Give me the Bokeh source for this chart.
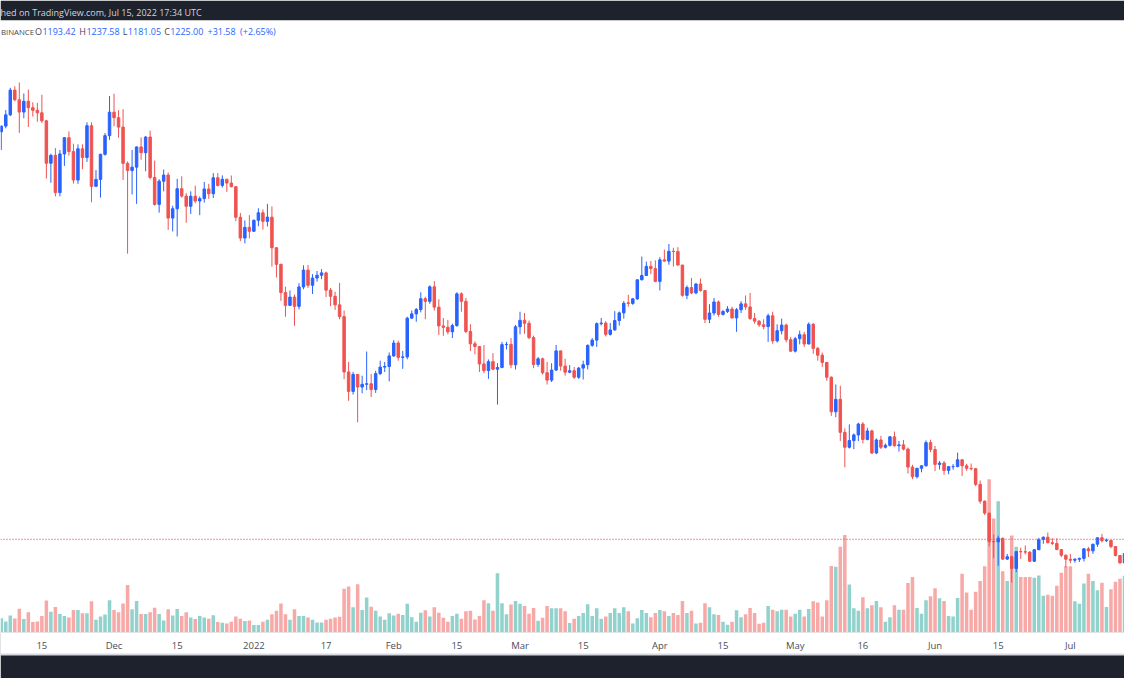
import pandas as pd
from bokeh.plotting import figure
from bokeh.models import ColumnDataSource, Range1d, FixedTicker, LinearAxis, Span, Label
from bokeh.embed import file_html
from bokeh.resources import INLINE

# ---------------- data (BINANCE ETH daily) ----------------
start_date = "2021-11-06"

opens = [
    # Nov 6-30
    4475, 4520, 4610, 4807, 4730, 4632, 4718, 4667, 4646, 4626, 4562, 4224, 4287, 3990, 4298, 4428, 4317, 4090, 4339, 4270, 4523, 4040, 4095, 4295, 4444,
    # Dec
    4631, 4587, 4512, 4223, 4166, 4193, 4354, 4308, 4433, 4111, 3896, 4081, 4130, 3787, 3861, 4021, 3962, 3881, 3961, 3923, 3942, 4019, 3981, 4108, 4047, 4096, 4066, 4037, 3793, 3628, 3713,
    # Jan
    3682, 3769, 3829, 3761, 3794, 3550, 3418, 3193, 3091, 3157, 3083, 3238, 3372, 3251, 3309, 3331, 3350, 3212, 3163, 3095, 3001, 2560, 2405, 2540, 2440, 2462, 2466, 2420, 2547, 2599, 2604,
    # Feb
    2688, 2791, 2676, 2680, 2989, 3023, 3058, 3144, 3123, 3239, 3077, 2927, 2916, 2880, 2930, 3183, 3123, 2883, 2785, 2763, 2624, 2571, 2642, 2582, 2596, 2778, 2780, 2617,
    # Mar
    2920, 2972, 2948, 2834, 2620, 2665, 2554, 2495, 2575, 2728, 2607, 2558, 2570, 2518, 2591, 2618, 2772, 2814, 2945, 2950, 2860, 2895, 2970, 3031, 3111, 3106, 3143, 3295, 3329, 3402, 3384,
    # Apr
    3282, 3454, 3444, 3522, 3520, 3412, 3171, 3233, 3190, 3261, 3209, 2980, 3030, 3118, 3019, 3042, 3062, 2991, 3056, 3103, 3078, 2986, 2965, 2936, 2922, 3008, 2808, 2889, 2934, 2817,
    # May
    2726, 2825, 2857, 2783, 2940, 2748, 2694, 2636, 2518, 2243, 2342, 2079, 1960, 2013, 2058, 2145, 2022, 2090, 1914, 2018, 1960, 1975, 2043, 1972, 1979, 1945, 1802, 1725, 1792, 1812, 1997,
    # Jun
    1942, 1823, 1834, 1775, 1805, 1806, 1860, 1812, 1792, 1789, 1664, 1530, 1435, 1208, 1206, 1234, 1068, 1087, 994, 1128, 1127, 1124, 1051, 1143, 1225, 1242, 1199, 1193, 1144, 1099,
    # Jul 1-15
    1067, 1059, 1067, 1074, 1150, 1134, 1187, 1238, 1215, 1217, 1168, 1097, 1038, 1113, 1193.42,
]

highs = [
    4525, 4648, 4825, 4838, 4868, 4780, 4812, 4710, 4705, 4770, 4570, 4300, 4345, 4330, 4430, 4478, 4380, 4374, 4375, 4550, 4550, 4170, 4300, 4465, 4760,
    4778, 4647, 4655, 4238, 4330, 4358, 4430, 4440, 4484, 4245, 4097, 4174, 4150, 3885, 4100, 4120, 3987, 4000, 4045, 3960, 4075, 4060, 4145, 4145, 4127, 4100, 4126, 4040, 3828, 3768, 3810,
    3776, 3865, 3856, 3900, 3880, 3555, 3423, 3240, 3210, 3177, 3268, 3410, 3413, 3340, 3365, 3380, 3360, 3230, 3200, 3270, 3050, 2640, 2560, 2540, 2530, 2723, 2545, 2570, 2650, 2640, 2715,
    2815, 2810, 2728, 3000, 3050, 3070, 3195, 3160, 3250, 3284, 3140, 2990, 2975, 2945, 3195, 3195, 3150, 2940, 2805, 2765, 2775, 2660, 2710, 2630, 2800, 2800, 2830, 2935,
    3040, 3030, 2970, 2850, 2680, 2675, 2640, 2630, 2775, 2730, 2665, 2615, 2600, 2600, 2650, 2780, 2830, 2955, 2990, 2965, 2950, 3045, 3042, 3125, 3175, 3150, 3295, 3480, 3440, 3445, 3450,
    3475, 3535, 3580, 3550, 3555, 3415, 3250, 3310, 3270, 3305, 3212, 3100, 3150, 3130, 3055, 3085, 3080, 3070, 3125, 3170, 3190, 3030, 2975, 2980, 3025, 3040, 2940, 2985, 2945, 2840,
    2840, 2890, 2880, 2955, 2950, 2760, 2715, 2640, 2525, 2460, 2450, 2110, 2142, 2070, 2155, 2160, 2115, 2100, 2030, 2050, 1990, 2050, 2085, 2010, 2018, 1958, 1820, 1795, 1815, 2015, 2020,
    1970, 1850, 1850, 1810, 1825, 1917, 1865, 1828, 1830, 1795, 1695, 1535, 1435, 1265, 1255, 1240, 1110, 1095, 1130, 1160, 1177, 1130, 1145, 1237, 1250, 1280, 1235, 1235, 1146, 1105,
    1110, 1075, 1080, 1155, 1165, 1190, 1240, 1270, 1232, 1220, 1170, 1100, 1115, 1215, 1237.58,
]

lows = [
    4330, 4502, 4600, 4718, 4466, 4583, 4513, 4596, 4555, 4544, 4102, 4068, 3960, 3960, 4203, 4285, 4062, 4060, 4176, 4235, 3913, 4035, 3950, 4285, 4410,
    4520, 4427, 4090, 3503, 3975, 3900, 4252, 4160, 4095, 3886, 3830, 4000, 3693, 3680, 3640, 3950, 3750, 3820, 3905, 3810, 3910, 3940, 3947, 4037, 4030, 3996, 4032, 3762, 3603, 3585, 3625,
    3676, 3722, 3695, 3720, 3400, 3313, 3126, 3000, 3085, 2928, 3059, 3220, 3230, 3182, 3280, 3300, 3158, 3085, 3055, 2980, 2503, 2330, 2380, 2159, 2390, 2415, 2360, 2393, 2535, 2560, 2485,
    2680, 2650, 2585, 2661, 2985, 2960, 3035, 2980, 3103, 3050, 2855, 2848, 2860, 2830, 2920, 3040, 2870, 2727, 2700, 2560, 2550, 2505, 2575, 2300, 2590, 2740, 2590, 2580,
    2860, 2865, 2820, 2590, 2600, 2540, 2460, 2480, 2570, 2570, 2530, 2550, 2505, 2505, 2500, 2580, 2760, 2760, 2930, 2843, 2850, 2890, 2930, 2985, 3080, 3095, 3135, 3290, 3330, 3340, 3275,
    3210, 3440, 3415, 3400, 3410, 3160, 3140, 3180, 3180, 3200, 2950, 2950, 3010, 3000, 3010, 3030, 2985, 2880, 3030, 3055, 2975, 2945, 2920, 2900, 2800, 2785, 2795, 2860, 2795, 2720,
    2715, 2780, 2760, 2780, 2705, 2650, 2600, 2490, 2210, 2200, 2010, 1800, 1950, 1945, 2010, 1990, 2015, 1905, 1905, 1945, 1950, 1965, 1965, 1925, 1935, 1750, 1705, 1710, 1760, 1806, 1920,
    1770, 1782, 1740, 1745, 1780, 1800, 1730, 1772, 1775, 1650, 1510, 1420, 1170, 1075, 1015, 1060, 1061, 881, 965, 1070, 1105, 1045, 1045, 1140, 1190, 1195, 1180, 1140, 1085, 1000,
    1035, 1040, 1045, 1050, 1085, 1110, 1165, 1200, 1205, 1155, 1090, 1030, 1006, 1065, 1181.05,
]

closes = [
    4520, 4610, 4807, 4730, 4632, 4718, 4667, 4646, 4626, 4562, 4224, 4287, 3990, 4298, 4428, 4317, 4090, 4339, 4270, 4523, 4040, 4095, 4295, 4444, 4631,
    4587, 4512, 4223, 4166, 4193, 4354, 4308, 4433, 4111, 3896, 4081, 4130, 3787, 3861, 4021, 3962, 3881, 3961, 3923, 3942, 4019, 3981, 4108, 4047, 4096, 4066, 4037, 3793, 3628, 3713, 3682,
    3769, 3829, 3761, 3794, 3550, 3418, 3193, 3091, 3157, 3083, 3238, 3372, 3251, 3309, 3331, 3350, 3212, 3163, 3095, 3001, 2560, 2405, 2540, 2440, 2462, 2466, 2420, 2547, 2599, 2604, 2688,
    2791, 2676, 2680, 2989, 3023, 3058, 3144, 3123, 3239, 3077, 2927, 2916, 2880, 2930, 3183, 3123, 2883, 2785, 2763, 2624, 2571, 2642, 2582, 2596, 2778, 2780, 2617, 2920,
    2972, 2948, 2834, 2620, 2665, 2554, 2495, 2575, 2728, 2607, 2558, 2570, 2518, 2591, 2618, 2772, 2814, 2945, 2950, 2860, 2895, 2970, 3031, 3108, 3106, 3143, 3295, 3329, 3402, 3384, 3282,
    3454, 3444, 3522, 3520, 3412, 3171, 3233, 3190, 3261, 3209, 2980, 3030, 3118, 3019, 3042, 3062, 2991, 3056, 3103, 3078, 2986, 2965, 2936, 2922, 3008, 2808, 2889, 2934, 2817, 2726,
    2825, 2857, 2783, 2940, 2748, 2694, 2636, 2518, 2243, 2342, 2079, 1960, 2013, 2058, 2145, 2022, 2090, 1914, 2018, 1960, 1975, 2043, 1972, 1979, 1945, 1802, 1725, 1792, 1812, 1997, 1942,
    1823, 1834, 1775, 1805, 1806, 1860, 1812, 1792, 1789, 1664, 1530, 1435, 1207, 1206, 1234, 1068, 1087, 994, 1128, 1127, 1124, 1051, 1143, 1225, 1242, 1199, 1193, 1144, 1099, 1067,
    1059, 1067, 1074, 1150, 1134, 1187, 1238, 1215, 1217, 1168, 1097, 1038, 1113, 1193.42, 1225.00,
]

# volume, in thousands (relative bar heights)
volumes = [
    147, 113, 173, 143, 243, 137, 207, 107, 113, 170, 327, 213, 260, 190, 170, 153, 230, 230, 197, 197, 320, 130, 163, 183, 330,
    230, 207, 297, 487, 237, 323, 190, 190, 207, 253, 190, 123, 237, 173, 240, 170, 207, 153, 137, 170, 153, 140, 177, 107, 100, 93, 110, 163, 140, 117, 123,
    77, 77, 110, 130, 187, 223, 297, 187, 130, 237, 170, 170, 153, 130, 103, 103, 130, 140, 153, 160, 447, 470, 257, 493, 230, 357, 263, 223, 163, 130, 197,
    173, 193, 180, 293, 157, 110, 203, 227, 163, 257, 203, 150, 110, 170, 193, 140, 217, 223, 133, 170, 330, 300, 223, 607, 300, 187, 287, 323,
    293, 270, 193, 250, 120, 150, 270, 247, 247, 247, 217, 97, 140, 170, 200, 290, 170, 247, 140, 163, 200, 247, 200, 257, 217, 93, 147, 230, 200, 157, 200,
    230, 217, 170, 200, 180, 323, 200, 223, 93, 100, 300, 257, 187, 180, 110, 80, 110, 227, 157, 187, 250, 200, 90, 100, 270, 233, 217, 233, 233, 163,
    193, 233, 163, 240, 320, 307, 163, 330, 680, 673, 877, 997, 490, 247, 223, 360, 247, 280, 323, 257, 110, 157, 280, 233, 233, 507, 567, 250, 193, 330, 370,
    453, 350, 323, 170, 163, 353, 600, 410, 233, 417, 527, 677, 1567, 1167, 1343, 627, 527, 993, 877, 567, 567, 567, 560, 583, 377, 387, 377, 477, 610, 677,
    677, 320, 293, 500, 600, 527, 433, 510, 260, 443, 520, 550, 580, 480, 300,
]

tick_dates = ["2021-11-15", "2021-12-01", "2021-12-15", "2022-01-01", "2022-01-17", "2022-02-01",
              "2022-02-15", "2022-03-01", "2022-03-15", "2022-04-01", "2022-04-15", "2022-05-01",
              "2022-05-16", "2022-06-01", "2022-06-15", "2022-07-01"]
tick_labels = ["15", "Dec", "15", "2022", "17", "Feb", "15", "Mar", "15", "Apr", "15", "May",
               "16", "Jun", "15", "Jul"]

symbol = "BINANCE"
published = "hed on TradingView.com, Jul 15, 2022 17:34 UTC"

# ---------------- derived ----------------
n = len(opens)
assert len(highs) == n and len(lows) == n and len(closes) == n and len(volumes) == n
base = pd.Timestamp("2022-01-01")
dates = pd.date_range(start_date, periods=n, freq="D")
xs = [(d - base).days for d in dates]

UP = "#2962ff"
DOWN = "#ef5350"
VUP = "#92d2cc"
VDOWN = "#f7a9a7"
GREYTXT = "#434651"

up = [c >= o for o, c in zip(opens, closes)]
src = ColumnDataSource(dict(
    x=xs, open=opens, high=highs, low=lows, close=closes, vol=volumes,
    top=[max(o, c) for o, c in zip(opens, closes)],
    bottom=[min(o, c) for o, c in zip(opens, closes)],
    color=[UP if u else DOWN for u in up],
    vcolor=[VUP if u else VDOWN for u in up],
))

W, H = 1124, 678
TOP = 20
BOTTOM = 46

p = figure(width=W, height=H, output_backend="svg", toolbar_location=None,
           x_range=Range1d(-56.17, 193.0), y_range=Range1d(483, 5362),
           y_axis_location=None, min_border_left=0, min_border_right=0,
           min_border_top=TOP, min_border_bottom=BOTTOM,
           border_fill_color="#1e222d", background_fill_color="#ffffff",
           outline_line_color=None, title=published)

p.title.text_color = "#d1d4dc"
p.title.text_font = "Open Sans"
p.title.text_font_size = "9px"
p.title.text_font_style = "normal"
p.title.align = "left"
p.title.offset = 0
p.title.standoff = 4

p.xgrid.visible = False
p.ygrid.visible = False

p.extra_y_ranges = {"vol": Range1d(0, 6260)}

# volume
p.vbar(x="x", width=0.78, top="vol", bottom=0, y_range_name="vol", source=src,
       fill_color="vcolor", line_color=None)

# last price line
p.add_layout(Span(location=closes[-1], dimension="width", line_color=DOWN,
                  line_dash="1 2", line_width=1.2, line_alpha=1.0))

# candles
p.segment(x0="x", y0="low", x1="x", y1="high", line_color="color", line_width=1, source=src)
p.vbar(x="x", width=0.55, top="top", bottom="bottom", fill_color="color",
       line_color="color", line_width=1, source=src)

# x axis
tick_x = [int((pd.Timestamp(t) - base).days) for t in tick_dates]
ax = p.xaxis[0]
ax.ticker = FixedTicker(ticks=tick_x)
ax.major_label_overrides = {tx: lab for tx, lab in zip(tick_x, tick_labels)}
ax.axis_line_color = None
ax.major_tick_line_color = None
ax.minor_tick_line_color = None
ax.major_tick_out = 0
ax.major_tick_in = 0
ax.major_label_standoff = 6
ax.major_label_text_font = "Open Sans"
ax.major_label_text_font_size = "9.5px"
ax.major_label_text_color = "#4a4d57"
if "background_fill_color" in ax.properties():
    ax.background_fill_color = "#ffffff"

ax2 = LinearAxis(ticker=FixedTicker(ticks=[]), axis_line_color="#d6d9e0", axis_line_width=2,
                 major_tick_line_color=None, minor_tick_line_color=None,
                 major_tick_out=0, major_tick_in=0, major_label_standoff=0,
                 major_label_text_font_size="0px")
p.add_layout(ax2, "below")

# header legend (OHLC of last bar)
chg = closes[-1] - closes[-2]
pct = chg / closes[-2] * 100
y_head = 5271
FS = 9  # px


def d_of(refx):
    return (refx - 257) / 4.575


def add_text(txt, refx, col, size=FS):
    p.add_layout(Label(x=d_of(refx), y=y_head, text=txt, text_color=col,
                       text_font="Open Sans", text_font_size=f"{size}px",
                       text_baseline="middle", text_align="left"))


add_text(symbol, 0.5, GREYTXT, size=7.8)
# (letter, letter width in em, value, group start)
groups = [("O", 0.78, f"{opens[-1]:.2f}", 35), ("H", 0.74, f"{highs[-1]:.2f}", 80),
          ("L", 0.52, f"{lows[-1]:.2f}", 124), ("C", 0.62, f"{closes[-1]:.2f}", 166)]
for letter, em, val, gx in groups:
    add_text(letter, gx, GREYTXT)
    add_text(val, gx + em * FS + 0.5, UP)
add_text(f"{chg:+.2f}", 210, UP)
add_text(f"({pct:+.2f}%)", 243, UP)

open("out.html", "w").write(file_html(p, INLINE))
